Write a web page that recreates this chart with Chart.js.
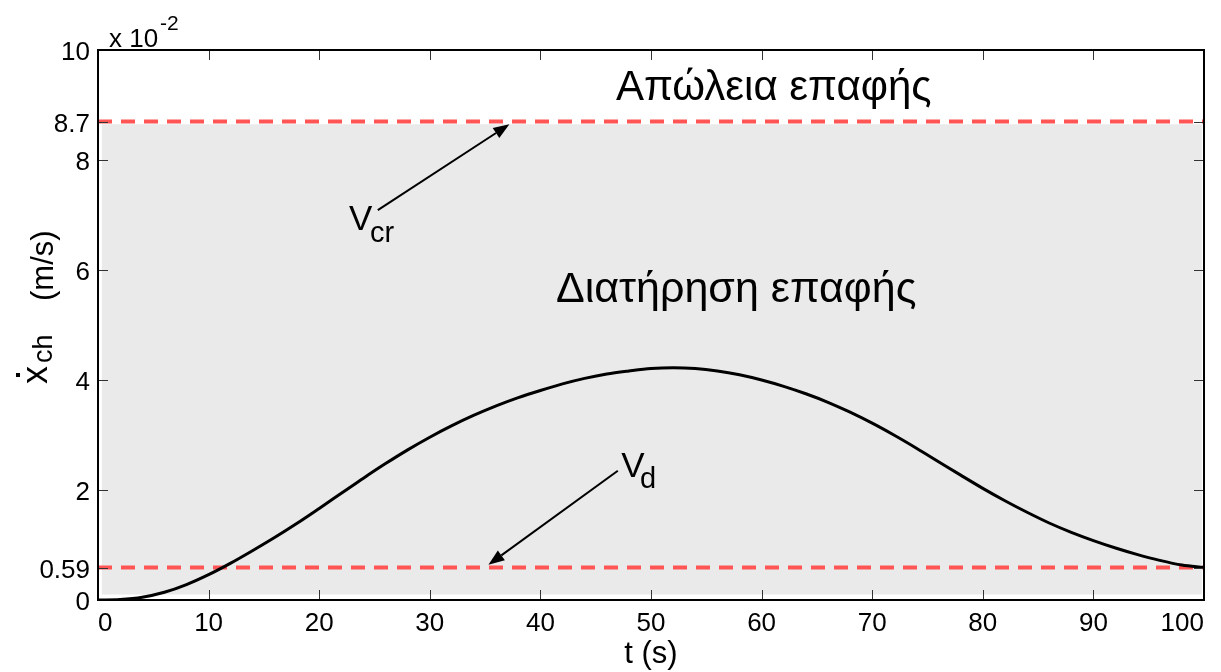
<!DOCTYPE html>
<html>
<head>
<meta charset="utf-8">
<script src="https://cdn.jsdelivr.net/npm/chart.js@4/dist/chart.umd.min.js"></script>
<style>
  html, body { margin: 0; padding: 0; background: #fff; }
  #wrap { width: 1221px; height: 672px; }
</style>
</head>
<body>
<div id="wrap"><canvas id="c" width="1221" height="672"></canvas></div>
<script>
// Time samples (s)
const timeSec = [0, 2, 4, 6, 8, 10, 12, 14, 16, 18, 20, 22, 24, 26, 28, 30, 32, 34, 36, 38, 40,
  42, 44, 46, 48, 50, 52, 54, 56, 58, 60, 62, 64, 66, 68, 70, 72, 74, 76, 78, 80,
  82, 84, 86, 88, 90, 92, 94, 96, 98, 100];
// Chassis velocity, in units of 1e-2 m/s
const chassisVel = [0.000, 0.010, 0.050, 0.140, 0.280, 0.460, 0.670, 0.900, 1.140, 1.395, 1.665,
  1.940, 2.215, 2.480, 2.730, 2.960, 3.170, 3.360, 3.530, 3.680, 3.810,
  3.930, 4.030, 4.110, 4.165, 4.210, 4.225, 4.210, 4.165, 4.095, 4.000,
  3.885, 3.750, 3.595, 3.415, 3.215, 2.995, 2.760, 2.515, 2.270, 2.030,
  1.805, 1.595, 1.400, 1.230, 1.080, 0.945, 0.825, 0.720, 0.635, 0.590];
// Threshold velocities (1e-2 m/s)
const vCritical = 8.7;
const vDetach = 0.59;
const limitSpan = [0, 100];
// Contact-maintained band
const bandTime = [0.35, 99.8];
const bandVel = [0.1, 8.65];
// Axis ticks
const xTickValues = [0, 10, 20, 30, 40, 50, 60, 70, 80, 90, 100];
const yTickValues = [0, 0.59, 2, 4, 6, 8, 8.7, 10];

const FONT = '"Liberation Sans", Arial, Helvetica, sans-serif';

function drawArrow(ctx, x0, y0, x1, y1) {
  const ang = Math.atan2(y1 - y0, x1 - x0);
  const len = 16, half = 6;
  const bx = x1 - len * Math.cos(ang), by = y1 - len * Math.sin(ang);
  ctx.beginPath();
  ctx.moveTo(x0, y0);
  ctx.lineTo(bx, by);
  ctx.lineWidth = 2;
  ctx.strokeStyle = '#000';
  ctx.stroke();
  ctx.beginPath();
  ctx.moveTo(x1, y1);
  ctx.lineTo(bx + half * Math.sin(ang), by - half * Math.cos(ang));
  ctx.lineTo(bx - half * Math.sin(ang), by + half * Math.cos(ang));
  ctx.closePath();
  ctx.fillStyle = '#000';
  ctx.fill();
}

const plotDecor = {
  id: 'plotDecor',
  beforeDatasetsDraw(chart) {
    const { ctx, scales: { x, y } } = chart;
    ctx.save();
    ctx.fillStyle = '#eaeaea';
    const l = x.getPixelForValue(bandTime[0]), r = x.getPixelForValue(bandTime[1]);
    const t = y.getPixelForValue(bandVel[1]), b = y.getPixelForValue(bandVel[0]);
    ctx.fillRect(l, t, r - l, b - t);
    ctx.restore();
  },
  afterDatasetsDraw(chart) {
    const { ctx, chartArea: a, scales: { x, y } } = chart;
    ctx.save();
    // inward tick marks
    ctx.strokeStyle = '#333';
    ctx.lineWidth = 1;
    ctx.beginPath();
    x.ticks.forEach(tk => {
      const px = Math.round(x.getPixelForValue(tk.value)) + 0.5;
      ctx.moveTo(px, a.bottom); ctx.lineTo(px, a.bottom - 10);
      ctx.moveTo(px, a.top); ctx.lineTo(px, a.top + 10);
    });
    y.ticks.forEach(tk => {
      const py = Math.round(y.getPixelForValue(tk.value)) + 0.5;
      ctx.moveTo(a.left, py); ctx.lineTo(a.left + 10, py);
      ctx.moveTo(a.right, py); ctx.lineTo(a.right - 10, py);
    });
    ctx.stroke();
    // axes box
    ctx.strokeStyle = '#000';
    ctx.lineWidth = 2;
    ctx.strokeRect(a.left, a.top, a.right - a.left, a.bottom - a.top);

    // annotations
    const X = v => x.getPixelForValue(v), Y = v => y.getPixelForValue(v);
    drawArrow(ctx, X(25.3), Y(7.09), X(37.2), Y(8.65));
    drawArrow(ctx, X(47.0), Y(2.35), X(35.3), Y(0.64));

    ctx.fillStyle = '#000';
    ctx.textBaseline = 'alphabetic';
    ctx.textAlign = 'center';
    ctx.font = '42px ' + FONT;
    ctx.fillText('Απώλεια επαφής', X(61.1), Y(9.09));
    ctx.font = '43px ' + FONT;
    ctx.fillText('Διατήρηση επαφής', X(57.7), Y(5.42));

    ctx.textAlign = 'left';
    ctx.font = '35px ' + FONT;
    ctx.fillText('V', X(22.7), Y(6.73));
    ctx.fillText('V', X(47.3), Y(2.24));
    ctx.font = '29px ' + FONT;
    ctx.fillText('cr', X(24.6), Y(6.51));
    ctx.fillText('d', X(49.0), Y(2.04));

    // exponent marker above the y axis
    ctx.font = '26px ' + FONT;
    ctx.fillText('x 10', 109, 47);
    ctx.font = '21px ' + FONT;
    ctx.fillText('-2', 160, 30);

    // y-axis title: x-dot with subscript "ch", then units
    ctx.translate(47, 384);
    ctx.rotate(-Math.PI / 2);
    ctx.font = '36px ' + FONT;
    ctx.fillText('x', 0, 0);
    ctx.fillRect(7, -31, 4, 4);
    ctx.font = '27px ' + FONT;
    ctx.fillText('ch', 21, 5);
    ctx.font = '31px ' + FONT;
    ctx.fillText('(m/s)', 83, 6);
    ctx.restore();
  }
};

const chart = new Chart(document.getElementById('c'), {
  type: 'line',
  data: {
    datasets: [
      {
        label: 'x_ch',
        data: timeSec.map((t, i) => ({ x: t, y: chassisVel[i] })),
        borderColor: '#000',
        borderWidth: 3,
        pointRadius: 0,
        cubicInterpolationMode: 'monotone',
        fill: false,
        order: 0
      },
      {
        label: 'v_cr',
        data: limitSpan.map(t => ({ x: t, y: vCritical })),
        borderColor: '#ff5555',
        borderWidth: 4,
        borderDash: [14, 9],
        pointRadius: 0,
        fill: false,
        order: 1
      },
      {
        label: 'v_d',
        data: limitSpan.map(t => ({ x: t, y: vDetach })),
        borderColor: '#ff5555',
        borderWidth: 4,
        borderDash: [14, 9],
        pointRadius: 0,
        fill: false,
        order: 1
      }
    ]
  },
  options: {
    responsive: false,
    animation: false,
    devicePixelRatio: 1,
    layout: { padding: { top: 50, right: 17, left: 0, bottom: 0 } },
    plugins: { legend: { display: false }, tooltip: { enabled: false } },
    scales: {
      x: {
        type: 'linear',
        min: 0,
        max: 100,
        afterBuildTicks: s => { s.ticks = xTickValues.map(v => ({ value: v })); },
        afterFit: s => { s.height = 72; },
        grid: { display: false, drawTicks: false },
        border: { display: false },
        ticks: {
          color: '#000',
          font: { family: FONT, size: 26 },
          padding: 8,
          maxRotation: 0,
          autoSkip: false,
          align: 'inner',
          callback: v => String(v)
        },
        title: {
          display: true,
          text: 't (s)',
          color: '#000',
          font: { family: FONT, size: 31, lineHeight: 1.1 },
          padding: { top: 0, bottom: 0 }
        }
      },
      y: {
        type: 'linear',
        min: 0,
        max: 10,
        afterBuildTicks: s => { s.ticks = yTickValues.map(v => ({ value: v })); },
        afterFit: s => { s.width = 98; },
        grid: { display: false, drawTicks: false },
        border: { display: false },
        ticks: {
          color: '#000',
          font: { family: FONT, size: 26 },
          padding: 8,
          labelOffset: 3,
          autoSkip: false,
          callback: v => String(v)
        }
      }
    }
  },
  plugins: [plotDecor]
});
</script>
</body>
</html>
